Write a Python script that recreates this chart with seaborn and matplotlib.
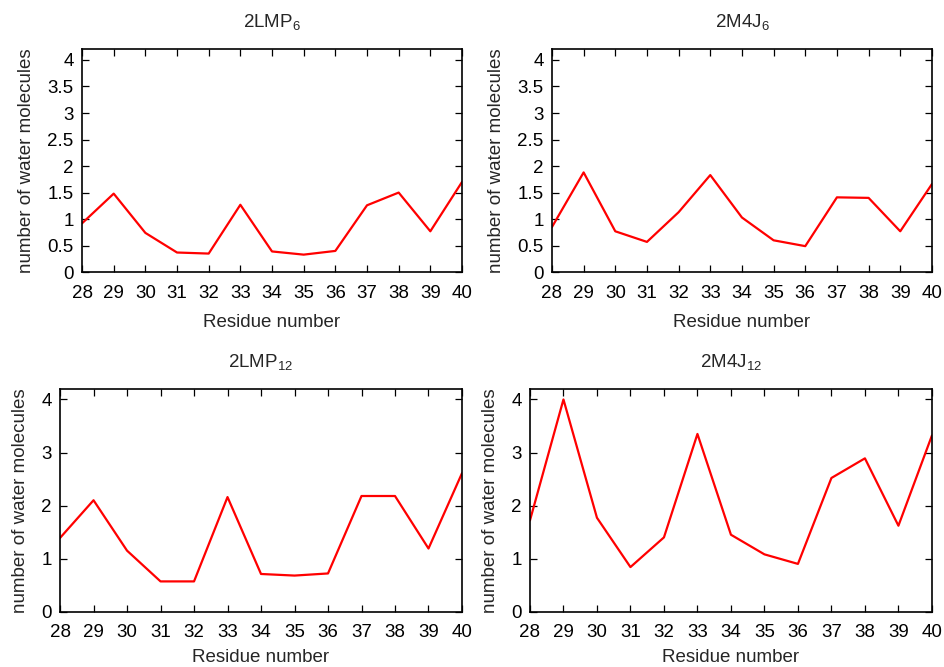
import matplotlib
matplotlib.use("Agg")
import matplotlib.pyplot as plt
import seaborn as sns
import pandas as pd

# Residues along the x axis
residues = list(range(28, 41))

# Average number of water molecules per residue, one series per system
lmp_6 = [0.92, 1.48, 0.74, 0.37, 0.35, 1.27, 0.39, 0.33, 0.40, 1.26, 1.50, 0.77, 1.70]
m4j_6 = [0.85, 1.88, 0.77, 0.57, 1.13, 1.83, 1.03, 0.60, 0.49, 1.41, 1.40, 0.77, 1.66]
lmp_12 = [1.39, 2.10, 1.15, 0.57, 0.57, 2.16, 0.71, 0.68, 0.72, 2.18, 2.18, 1.19, 2.61]
m4j_12 = [1.72, 4.00, 1.77, 0.84, 1.40, 3.35, 1.45, 1.08, 0.90, 2.52, 2.89, 1.62, 3.32]

titles = ["2LMP$_{6}$", "2M4J$_{6}$", "2LMP$_{12}$", "2M4J$_{12}$"]
series = [lmp_6, m4j_6, lmp_12, m4j_12]
y_ticks = [
    [0, 0.5, 1, 1.5, 2, 2.5, 3, 3.5, 4],
    [0, 0.5, 1, 1.5, 2, 2.5, 3, 3.5, 4],
    [0, 1, 2, 3, 4],
    [0, 1, 2, 3, 4],
]
y_ticklabels = [
    ["0", "0.5", "1", "1.5", "2", "2.5", "3", "3.5", "4"],
    ["0", "0.5", "1", "1.5", "2", "2.5", "3", "3.5", "4"],
    ["0", "1", "2", "3", "4"],
    ["0", "1", "2", "3", "4"],
]

sns.set_style("ticks")
plt.rcParams["font.family"] = ["Liberation Sans", "DejaVu Sans"]
plt.rcParams["mathtext.default"] = "regular"

fig = plt.figure(figsize=(9.44, 6.67), dpi=100)

# Panel rectangles in figure fractions: [left, bottom, width, height]
rects = [
    [0.0869, 0.592, 0.4025, 0.334],
    [0.5847, 0.592, 0.4025, 0.334],
    [0.0636, 0.083, 0.4258, 0.334],
    [0.5614, 0.083, 0.4258, 0.334],
]
xlabel_pads = [9, 9, 6, 6]

fs = 13.5
for rect, title, values, yt, ytl, xpad in zip(rects, titles, series, y_ticks,
                                               y_ticklabels, xlabel_pads):
    ax = fig.add_axes(rect)
    df = pd.DataFrame({"residue": residues, "waters": values})
    sns.lineplot(data=df, x="residue", y="waters", ax=ax, color="#ff0000",
                 linewidth=1.6)
    ax.set_xlim(28, 40)
    ax.set_ylim(0, 4.2)
    ax.set_xticks(residues)
    ax.set_xticklabels([str(r) for r in residues])
    ax.set_yticks(yt)
    ax.set_yticklabels(ytl)
    ax.tick_params(axis="x", direction="in", length=5, width=0.9, top=True,
                   labelsize=fs, colors="black", pad=9)
    ax.tick_params(axis="y", direction="in", length=5, width=0.9, right=True,
                   labelsize=fs, colors="black", pad=6)
    for side in ["top", "right", "bottom", "left"]:
        ax.spines[side].set_visible(True)
        ax.spines[side].set_linewidth(1.2)
        ax.spines[side].set_color("black")
    ax.set_xlabel("Residue number", fontsize=fs, labelpad=xpad)
    ax.set_ylabel("number of water molecules", fontsize=fs, labelpad=9)
    ax.set_title(title, fontsize=fs, pad=16)

fig.savefig("out.png", dpi=100)
